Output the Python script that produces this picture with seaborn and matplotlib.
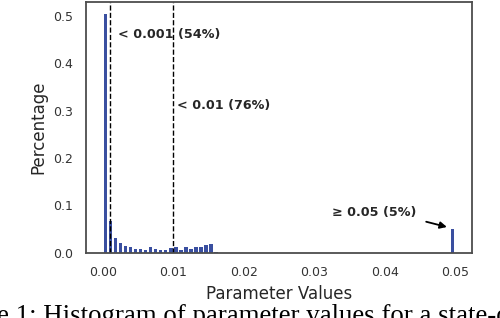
import numpy as np
import pandas as pd
import seaborn as sns
from matplotlib import pyplot as plt

# histogram of parameter values (70 bins over [0, 0.05], values >= 0.05 fall in the last bin)
n_bins = 70
bin_idx = [0, 1, 2, 3, 4, 5, 6, 7, 8, 9, 10, 11, 12, 13, 14, 15, 16, 17, 18, 19, 20, 21, 22, 69]
heights = [0.504, 0.068, 0.031, 0.020, 0.0134, 0.0112, 0.0072, 0.0090, 0.0068, 0.0132,
           0.0090, 0.0068, 0.0068, 0.0110, 0.0132, 0.0068, 0.0132, 0.0090, 0.0132, 0.0132,
           0.0175, 0.0196, 0.0025, 0.050]
thresholds = [0.001, 0.01]
labels = ["< 0.001 (54%)", "< 0.01 (76%)", "\u2265 0.05 (5%)"]

edges = np.linspace(0, 0.05, n_bins + 1)
centers = (edges[:-1] + edges[1:]) / 2
df = pd.DataFrame({"value": centers[bin_idx], "pct": heights})

sns.set_theme(style="white")
plt.rcParams['font.family'] = ['DejaVu Sans']

fig = plt.figure(figsize=(5, 3.18), dpi=100)
ax = fig.add_axes([0.172, 0.205, 0.772, 0.789])

sns.histplot(data=df, x="value", weights="pct", bins=n_bins, binrange=(0, 0.05), shrink=0.7,
             color="#3a4fa0", alpha=1, linewidth=0, ax=ax)

for t in thresholds:
    ax.axvline(t, color="black", linestyle="--", linewidth=1)

ax.text(0.0021, 0.461, labels[0], fontsize=9.2, fontweight="bold", color=".15", va="center")
ax.text(0.0105, 0.311, labels[1], fontsize=9.2, fontweight="bold", color=".15", va="center")
ax.text(0.0385, 0.085, labels[2], fontsize=9.2, fontweight="bold", color=".15",
        va="center", ha="center")
ax.annotate("", xy=(0.0492, 0.053), xytext=(0.0455, 0.067),
            arrowprops=dict(arrowstyle="-|>", color="black", lw=1.3, mutation_scale=10))

ax.set_xlabel("Parameter Values", fontsize=12, color=".15")
ax.set_ylabel("Percentage", fontsize=12, color=".15")
ax.tick_params(labelsize=9, colors=".2")
for s in ax.spines.values():
    s.set_color(".3")
    s.set_linewidth(1.3)

# paper caption, cut off by the crop as in the source page
fig.text(-0.122, -0.016, "Figure 1: Histogram of parameter values for a state-of-the-art",
         fontsize=19.4, family=["Liberation Serif"], color="black", va="baseline", ha="left")

plt.savefig("out.png", dpi=100)
